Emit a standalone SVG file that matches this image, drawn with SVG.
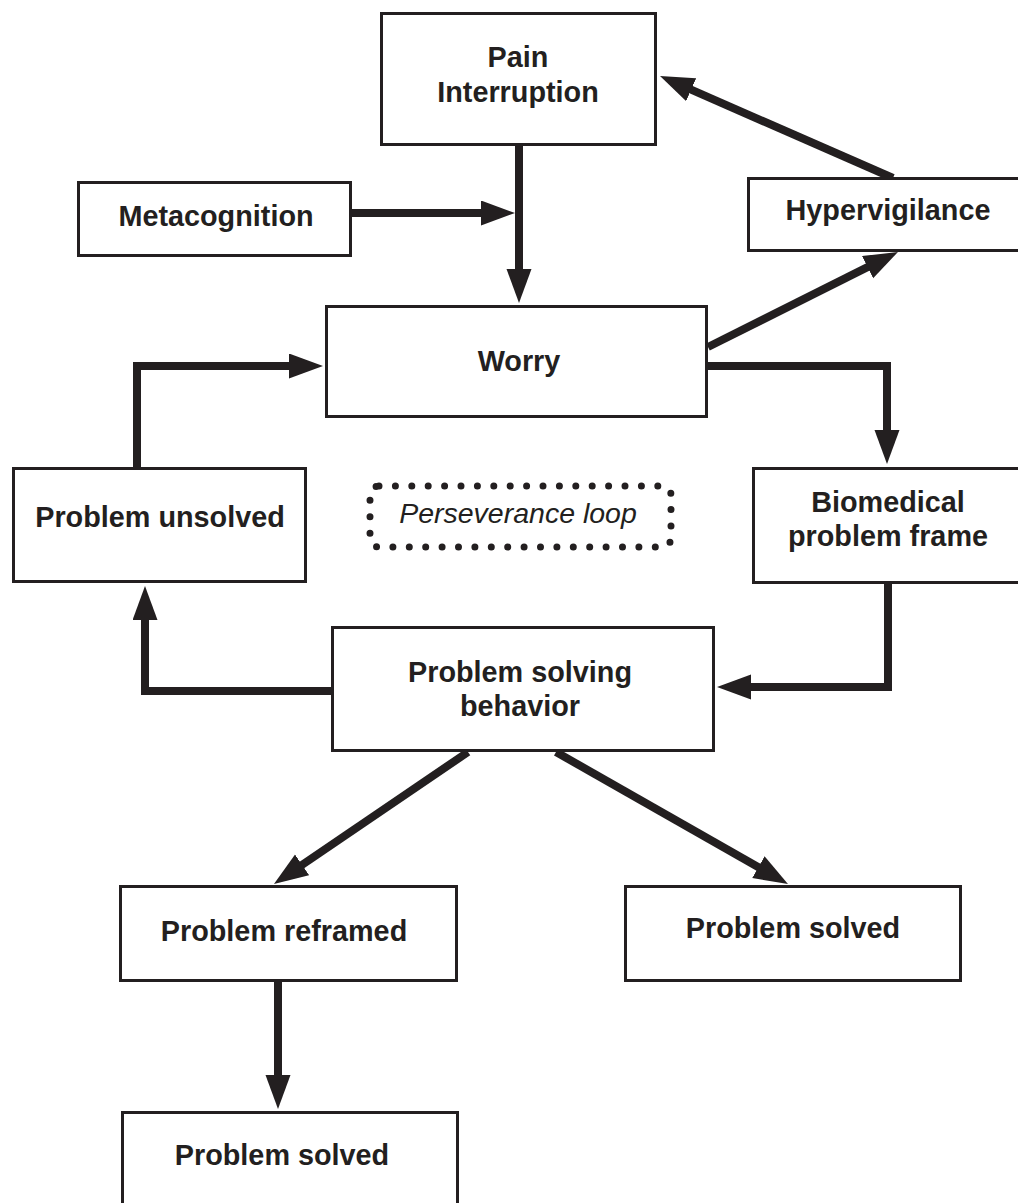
<svg xmlns="http://www.w3.org/2000/svg" width="1018" height="1203" viewBox="0 0 1018 1203">
  <defs>
    <marker id="arrow" markerUnits="userSpaceOnUse" markerWidth="36" markerHeight="26" refX="10" refY="12.5" orient="auto">
      <path d="M0,0 L34,12.5 L0,25 Z" fill="#231f20"/>
    </marker>
    <style>
      .box { fill: #ffffff; stroke: #231f20; stroke-width: 3; }
      .lbl { font-family: "Liberation Sans", Arial, Helvetica, sans-serif; font-weight: bold; font-size: 28.8px; fill: #231f20; text-anchor: middle; }
      .note { font-family: "Liberation Sans", Arial, Helvetica, sans-serif; font-style: italic; font-size: 28.5px; fill: #231f20; text-anchor: middle; }
      .conn { fill: none; stroke: #231f20; stroke-width: 8; stroke-linejoin: miter; stroke-linecap: butt; }
      .loop { fill: none; stroke: #231f20; stroke-width: 7; stroke-linecap: round; stroke-dasharray: 0 16.4; }
    </style>
  </defs>

  <!-- connectors -->
  <g id="connectors">
    <path class="conn" d="M519,146 V279" marker-end="url(#arrow)"/>
    <path class="conn" d="M352,213 H491" marker-end="url(#arrow)"/>
    <path class="conn" d="M893,178 L682,85.7" marker-end="url(#arrow)"/>
    <path class="conn" d="M708,347 L876.5,262.7" marker-end="url(#arrow)"/>
    <path class="conn" d="M708,366 H887 V440" marker-end="url(#arrow)"/>
    <path class="conn" d="M888,584 V687 H741" marker-end="url(#arrow)"/>
    <path class="conn" d="M331,691 H145 V610" marker-end="url(#arrow)"/>
    <path class="conn" d="M137,467 V366 H299" marker-end="url(#arrow)"/>
    <path class="conn" d="M468,752 L293.8,870.5" marker-end="url(#arrow)"/>
    <path class="conn" d="M556,752 L767.1,872.1" marker-end="url(#arrow)"/>
    <path class="conn" d="M278,982 V1085" marker-end="url(#arrow)"/>
  </g>

  <g id="pain-interruption">
    <rect class="box" x="381.5" y="13.5" width="274" height="131"/>
    <text class="lbl" x="518" y="67">Pain</text>
    <text class="lbl" x="518" y="102">Interruption</text>
  </g>

  <g id="metacognition">
    <rect class="box" x="78.5" y="182.5" width="272" height="73"/>
    <text class="lbl" x="216" y="226">Metacognition</text>
  </g>

  <g id="hypervigilance">
    <rect class="box" x="748.5" y="178.5" width="300" height="72"/>
    <text class="lbl" x="888" y="220">Hypervigilance</text>
  </g>

  <g id="worry">
    <rect class="box" x="326.5" y="306.5" width="380" height="110"/>
    <text class="lbl" x="519" y="371">Worry</text>
  </g>

  <g id="problem-unsolved">
    <rect class="box" x="13.5" y="468.5" width="292" height="113"/>
    <text class="lbl" x="160" y="527">Problem unsolved</text>
  </g>

  <g id="perseverance-loop">
    <rect class="loop" x="370" y="486" width="301" height="61" rx="9"/>
    <text class="note" x="518" y="523">Perseverance loop</text>
  </g>

  <g id="biomedical-frame">
    <rect class="box" x="753.5" y="468.5" width="300" height="114"/>
    <text class="lbl" x="888" y="512">Biomedical</text>
    <text class="lbl" x="888" y="546">problem frame</text>
  </g>

  <g id="problem-solving-behavior">
    <rect class="box" x="332.5" y="627.5" width="381" height="123"/>
    <text class="lbl" x="520" y="682">Problem solving</text>
    <text class="lbl" x="520" y="716">behavior</text>
  </g>

  <g id="problem-reframed">
    <rect class="box" x="120.5" y="886.5" width="336" height="94"/>
    <text class="lbl" x="284" y="941">Problem reframed</text>
  </g>

  <g id="problem-solved-right">
    <rect class="box" x="625.5" y="886.5" width="335" height="94"/>
    <text class="lbl" x="793" y="938">Problem solved</text>
  </g>

  <g id="problem-solved-bottom">
    <rect class="box" x="122.5" y="1112.5" width="335" height="120"/>
    <text class="lbl" x="282" y="1165">Problem solved</text>
  </g>
</svg>
